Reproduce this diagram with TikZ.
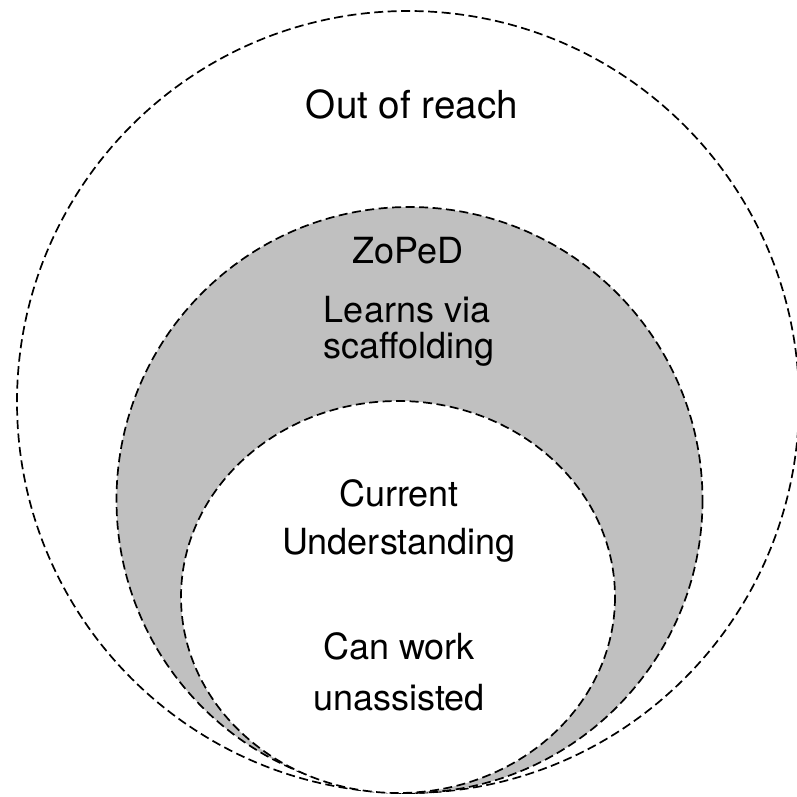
\documentclass[tikz,border=0pt]{standalone}
\usepackage{fontspec}
\setmainfont{TeX Gyre Heros}
\definecolor{zpdgray}{RGB}{192,192,192}
\begin{document}
\begin{tikzpicture}[x=1pt,y=-1pt,
  ring/.style={draw=black, line width=1.7pt, dash pattern=on 9pt off 4.5pt},
  lbl/.style={anchor=base, inner sep=0pt, font=\fontsize{36}{43}\selectfont}]
\useasboundingbox (0,0) rectangle (797,797);
\fill[white] (0,0) rectangle (797,797);
\draw[ring] (408,402) circle[radius=391];
\draw[ring, fill=zpdgray] (409.5,500) circle[radius=293];
\draw[ring, fill=white] (398,597) ellipse[x radius=217, y radius=196];
\node[lbl, font=\fontsize{38.6}{46}\selectfont] (out) at (412,119) {Out of reach};
\node[lbl] (zpd) at (408,263) {ZoPeD};
\node[lbl] (learns) at (407,322) {Learns via};
\node[lbl] (scaf) at (409,358) {scaffolding};
\node[lbl] (cur) at (399,506) {Current};
\node[lbl] (und) at (399,554) {Understanding};
\node[lbl] (can) at (399,659) {Can work};
\node[lbl] (una) at (399,710) {unassisted};
\end{tikzpicture}
\end{document}
